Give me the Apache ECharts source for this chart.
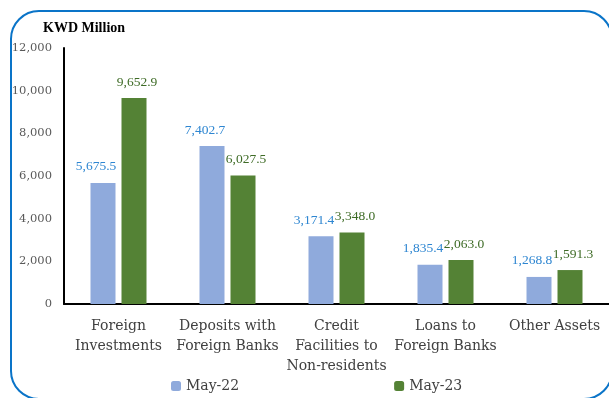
<!DOCTYPE html>
<html><head><meta charset="utf-8">
<script src="https://cdn.jsdelivr.net/npm/echarts@6/dist/echarts.min.js"></script>
<style>html,body{margin:0;padding:0;background:#fff}#c{width:609px;height:398px}</style>
</head><body><div id="c"></div>
<script>
const categories = ['Foreign\nInvestments', 'Deposits with\nForeign Banks', 'Credit\nFacilities to\nNon-residents', 'Loans to\nForeign Banks', 'Other Assets'];
const may22 = [5675.5, 7402.7, 3171.4, 1835.4, 1268.8];
const may23 = [9652.9, 6027.5, 3348.0, 2063.0, 1591.3];
const yTicks = [0, 2000, 4000, 6000, 8000, 10000, 12000];

const FONT = 'DejaVu Serif';
const LFONT = 'Liberation Serif';
const fmt = v => v.toLocaleString('en-US', {minimumFractionDigits: 1, maximumFractionDigits: 1});
const chart = echarts.init(document.getElementById('c'));
chart.setOption({
  animation: false,
  textStyle: {fontFamily: FONT},
  graphic: [{
    type: 'rect', shape: {x: 11, y: 11, width: 601, height: 388, r: 28},
    style: {fill: 'none', stroke: '#0A74C8', lineWidth: 2}, z: -1
  }, {
    type: 'text', left: 43, top: 21,
    style: {text: 'KWD Million', font: 'bold 14px "' + LFONT + '"', fill: '#000'}
  }],
  grid: {left: 64, top: 48, width: 547, height: 256},
  legend: {
    left: 166, top: 374, itemWidth: 10, itemHeight: 10, itemGap: 155,
    textStyle: {fontFamily: FONT, fontSize: 14, color: '#404040'},
    data: ['May-22', 'May-23']
  },
  xAxis: {
    type: 'category', data: categories,
    axisLine: {lineStyle: {color: '#000', width: 2}},
    axisTick: {show: false},
    axisLabel: {fontFamily: FONT, fontSize: 14, color: '#404040', lineHeight: 20, margin: 12, interval: 0}
  },
  yAxis: {
    type: 'value', min: yTicks[0], max: yTicks[yTicks.length - 1], interval: 2000,
    axisLine: {show: true, lineStyle: {color: '#000', width: 2}},
    axisTick: {show: false}, splitLine: {show: false},
    axisLabel: {fontFamily: FONT, fontSize: 11.5, color: '#595959', margin: 12,
      formatter: v => v.toLocaleString('en-US')}
  },
  series: [{
    name: 'May-22', type: 'bar', data: may22, barWidth: 25, barGap: '24%',
    itemStyle: {color: '#8FAADC'},
    label: {show: true, position: 'top', distance: 9, offset: [-7, 0], color: '#2E86D1',
      fontFamily: LFONT, fontSize: 13.5, formatter: p => fmt(p.value)}
  }, {
    name: 'May-23', type: 'bar', data: may23, barWidth: 25,
    itemStyle: {color: '#548235'},
    label: {show: true, position: 'top', distance: 9, offset: [3, 0], color: '#3E6B26',
      fontFamily: LFONT, fontSize: 13.5, formatter: p => fmt(p.value)}
  }]
});
</script></body></html>
